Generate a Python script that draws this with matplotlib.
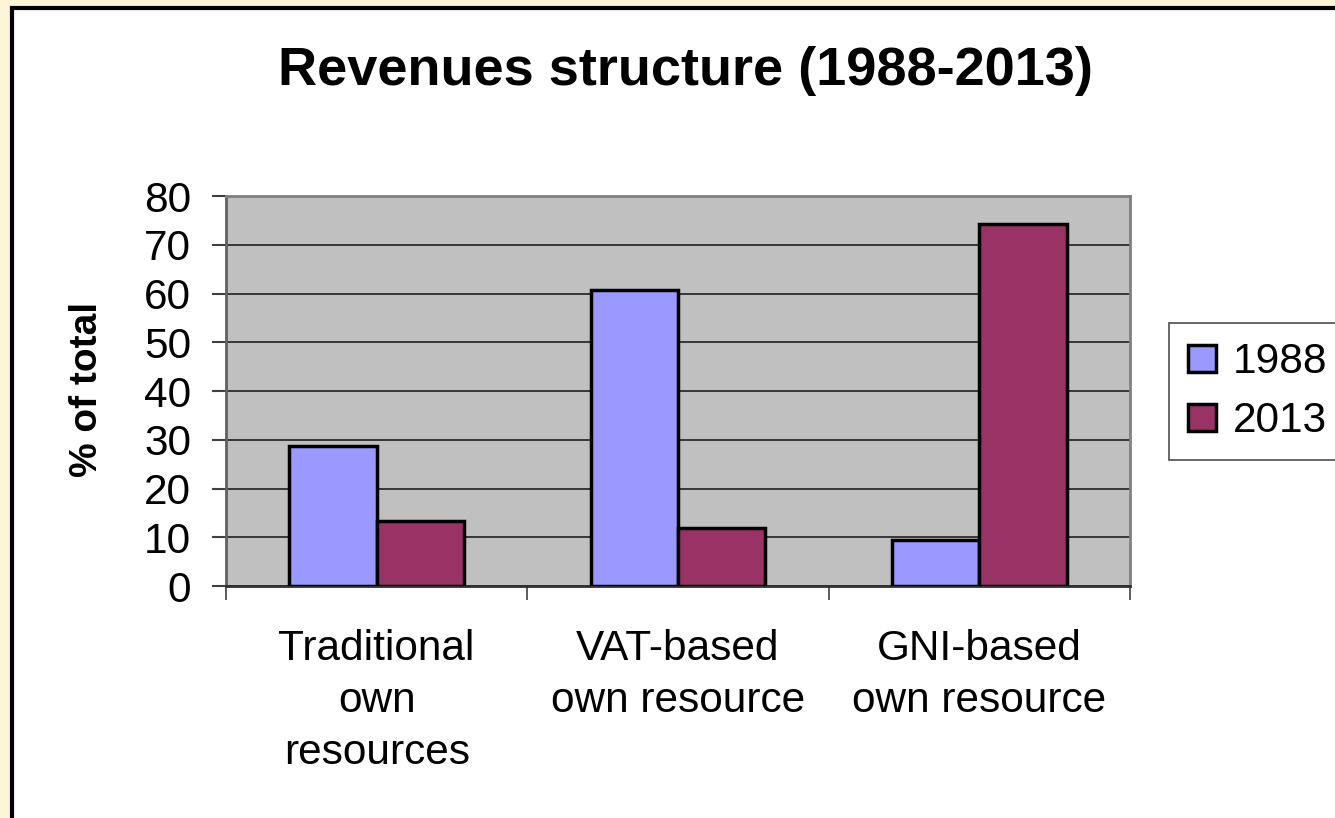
import numpy as np
import matplotlib.pyplot as plt
from matplotlib.patches import Rectangle

plt.rcParams['font.family'] = ['Liberation Sans', 'DejaVu Sans']

categories = ["Traditional\nown\nresources", "VAT-based\nown resource", "GNI-based\nown resource"]
years = ["1988", "2013"]
values_1988 = [28.7, 60.7, 9.4]
values_2013 = [13.3, 11.9, 74.3]
colors = ["#9999FF", "#993366"]

W, H = 1335, 818
fig = plt.figure(figsize=(W / 100, H / 100), dpi=100)
fig.patch.set_facecolor("#FFF4D8")

# white slide frame with black border
fig.patches.append(Rectangle((12 / W, -0.05), 1.1, 1 - 8 / H + 0.05,
                             transform=fig.transFigure, facecolor="white",
                             edgecolor="black", linewidth=3, zorder=-10))

ax = fig.add_axes([226 / W, 1 - 586 / H, (1130 - 226) / W, (586 - 196) / H])
ax.set_facecolor("#C0C0C0")

x = np.arange(len(categories))
bw = 0.29
ax.bar(x - bw / 2, values_1988, bw, color=colors[0], edgecolor="black", linewidth=2.5,
       label=years[0], zorder=3)
ax.bar(x + bw / 2, values_2013, bw, color=colors[1], edgecolor="black", linewidth=2.5,
       label=years[1], zorder=3)

ax.set_xlim(-0.5, 2.5)
ax.set_ylim(0, 80)
ax.set_yticks(range(0, 81, 10))
ax.yaxis.grid(True, color="#202020", linewidth=1.2, zorder=1)
ax.set_axisbelow(True)

ax.set_xticks([-0.5, 0.5, 1.5, 2.5])
ax.set_xticklabels([])
ax.set_xticks(x, minor=True)
ax.set_xticklabels(categories, minor=True, fontsize=30.5, linespacing=1.38)
ax.tick_params(axis="x", which="minor", length=0, pad=31)
ax.tick_params(axis="x", which="major", length=10, width=1.2, color="#404040")
ax.tick_params(axis="y", length=10, width=1.5, color="#404040", labelsize=30.5, pad=15)

for s in ["top", "right"]:
    ax.spines[s].set_color("#808080")
    ax.spines[s].set_linewidth(2)
ax.spines["left"].set_color("#606060")
ax.spines["left"].set_linewidth(2)
ax.spines["bottom"].set_color("#303030")
ax.spines["bottom"].set_linewidth(2)

fig.text(87 / W, 1 - 389 / H, "% of total", rotation=90, ha="center", va="center",
         fontsize=28, fontweight="bold")

fig.text(686 / W, 1 - 85 / H, "Revenues structure (1988-2013)", ha="center", va="baseline",
         fontsize=39, fontweight="bold")

leg = ax.legend(loc="upper left", bbox_to_anchor=(1169 / W, 1 - 323 / H),
                bbox_transform=fig.transFigure, fontsize=30.5, frameon=True,
                fancybox=False, edgecolor="#202020", handlelength=0.65, handleheight=0.6,
                handletextpad=0.4, borderpad=0.45, labelspacing=0.45, borderaxespad=0)
leg.get_frame().set_linewidth(1.2)
for p in leg.get_patches():
    p.set_linewidth(2.5)

fig.savefig("out.png", dpi=100)
